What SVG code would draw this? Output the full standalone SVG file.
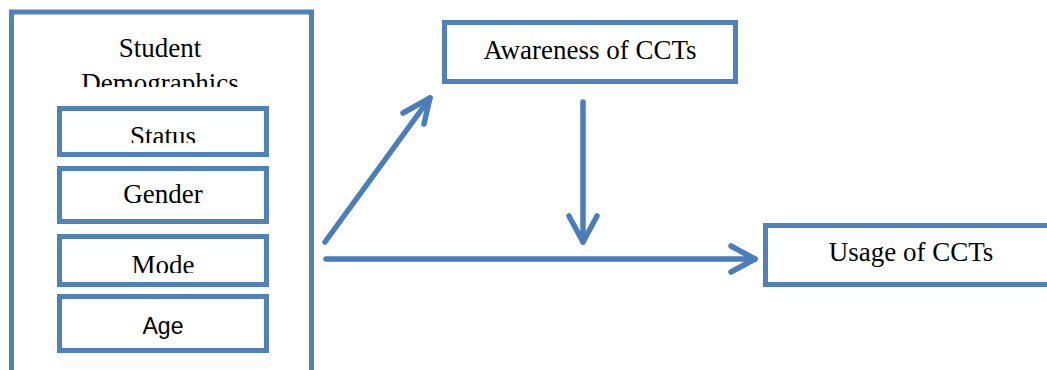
<svg xmlns="http://www.w3.org/2000/svg" width="1047" height="370" viewBox="0 0 1047 370">
  <defs>
    <style>
      .box { fill: #ffffff; stroke: #4F81BD; stroke-width: 5; }
      .serif { font-family: "Liberation Serif", "Times New Roman", serif; font-size: 27px; fill: #000; text-anchor: middle; }
      .sans { font-family: "Liberation Sans", Arial, sans-serif; font-size: 23px; fill: #000; text-anchor: middle; }
      .conn { fill: none; stroke: #4A7EBB; stroke-width: 5.5; stroke-linecap: round; stroke-linejoin: round; }
    </style>
    <clipPath id="clipDemo"><rect x="14" y="14" width="295" height="73"/></clipPath>
    <clipPath id="clipStatus"><rect x="62" y="111" width="202" height="32"/></clipPath>
    <clipPath id="clipMode"><rect x="62" y="239" width="202" height="34"/></clipPath>
  </defs>
  <rect width="1047" height="370" fill="#ffffff"/>

  <g id="student-demographics">
    <rect class="box" x="11.5" y="12" width="300" height="380"/>
    <text class="serif" x="160" y="57">Student</text>
    <text class="serif" x="160" y="92" clip-path="url(#clipDemo)">Demographics</text>
  </g>

  <g id="status">
    <rect class="box" x="59.5" y="108.5" width="207" height="46"/>
    <text class="serif" x="163" y="145" clip-path="url(#clipStatus)">Status</text>
  </g>

  <g id="gender">
    <rect class="box" x="59.5" y="168.5" width="207" height="53"/>
    <text class="serif" x="163" y="203">Gender</text>
  </g>

  <g id="mode">
    <rect class="box" x="59.5" y="236.5" width="207" height="48"/>
    <text class="serif" x="163" y="274" clip-path="url(#clipMode)">Mode</text>
  </g>

  <g id="age">
    <rect class="box" x="59.5" y="296.5" width="207" height="54"/>
    <text class="sans" x="163" y="334">Age</text>
  </g>

  <g id="awareness">
    <rect class="box" x="444.5" y="22.5" width="291" height="59"/>
    <text class="serif" x="590" y="59">Awareness of CCTs</text>
  </g>

  <g id="usage">
    <rect class="box" x="765.5" y="225.5" width="300" height="59"/>
    <text class="serif" x="911" y="261">Usage of CCTs</text>
  </g>

  <g id="connectors">
    <path class="conn" d="M325 242 L430 98"/>
    <path class="conn" d="M403 113 L430 98 L424 124"/>
    <path class="conn" d="M583 102 L583 242"/>
    <path class="conn" d="M569 216 L583 242 L597 216"/>
    <path class="conn" d="M326 259 L755 259"/>
    <path class="conn" d="M731 246 L755 259 L731 272"/>
  </g>
</svg>
